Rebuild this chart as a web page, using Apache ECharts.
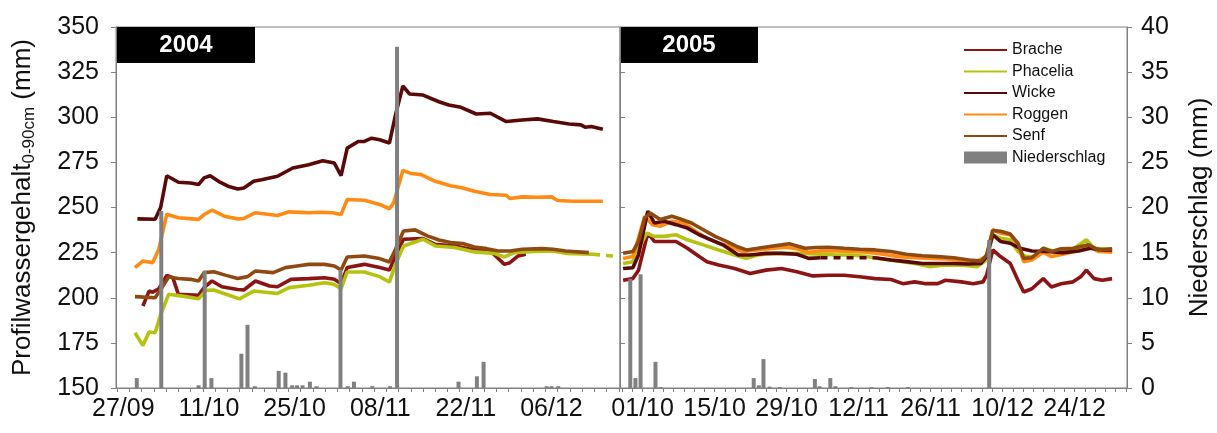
<!DOCTYPE html>
<html>
<head>
<meta charset="utf-8">
<script src="https://cdn.jsdelivr.net/npm/echarts@6/dist/echarts.min.js"></script>
<style>
  html, body { margin: 0; padding: 0; background: #fff; }
  #chart { width: 1217px; height: 433px; }
</style>
</head>
<body>
<div id="chart"></div>
<script>
// x values are day offsets: 2004 panel counts from 27/09/2004, 2005 panel from 01/10/2005.
const dateLabels2004 = ['27/09', '11/10', '25/10', '08/11', '22/11', '06/12'];
const dateLabelDays2004 = [0, 14, 28, 42, 56, 70];
const dateLabels2005 = ['01/10', '15/10', '29/10', '12/11', '26/11', '10/12', '24/12'];
const dateLabelDays2005 = [0, 14, 28, 42, 56, 70, 84];

// Profile water content 0-90 cm (mm), 2004
const brache2004 = [[3.2,195.4],[4.2,203.7],[4.8,203.1],[5.8,205],[7.1,212.4],[8.1,211.1],[9,201.9],[12.3,201.3],[13.2,205.6],[14.5,209.3],[16.1,206.1],[18.7,204.6],[19.7,204.3],[21.6,209.3],[23.9,206.5],[25.2,206.1],[27.4,210.2],[30.3,210.6],[32.9,211.1],[34.5,210.2],[35.6,207.8],[36.6,216.7],[39.4,218.5],[41.9,216.7],[43.5,215.4],[44.5,223.1],[45.8,232.4],[49,232.8],[51,229.6],[54.2,228.7],[57.4,226.5],[60,225.9],[62.3,218.5],[63.2,219.4],[64.5,223.1],[65.8,224.1]];
const phacelia2004 = [[1.9,180.6],[3.2,173.5],[4.2,181],[5.2,180.6],[6.1,190.7],[7.4,201.9],[9.7,200.9],[12.3,199.4],[13.5,204.1],[14.8,204.3],[16.8,201.9],[19,199.4],[21.3,203.7],[25.2,202.4],[27.1,205.6],[30.3,206.9],[32.9,208.3],[34.5,207.4],[35.6,205],[36.6,214.3],[39.4,214.3],[41.9,211.7],[43.5,208.7],[44.5,218.5],[45.8,228.7],[49,232.4],[51,228.7],[54.2,227.8],[57.4,225.4],[60.6,224.6],[62.3,222.6],[63.9,225],[67.1,225.6],[70.3,225.9],[72.3,224.6],[76.8,224.1]];
const phacelia2004Tail = [[76.8,224.1],[81,222.8]];
const wicke2004 = [[2.3,243.7],[5.2,243.5],[6.1,250],[7.1,267.6],[9,264],[11,263.6],[12.3,262.7],[13.2,266.4],[14.2,267.6],[15.8,264],[17.1,261.8],[18.7,260.3],[19.7,260.8],[21.3,264.5],[22.6,265.4],[25.2,267.3],[27.7,271.9],[30.3,273.7],[32.6,275.9],[34.5,274.6],[35.6,267.6],[36.6,282.9],[38.4,286.6],[39.4,286.6],[40.6,288.4],[41.9,287.5],[43.5,285.7],[44.5,301.3],[45.7,317.3],[46.8,312.9],[49,312.3],[51.6,308.6],[53.2,306.8],[55.2,305.5],[57.7,301.8],[60,302.2],[62.6,297.6],[65.2,298.5],[67.7,299.1],[70.3,297.6],[72.9,296.3],[74.8,295.8],[75.5,294.5],[76.5,294.9],[78.4,293.4]];
const roggen2004 = [[1.9,216.7],[3.2,220.4],[4.8,219.4],[5.8,226.9],[7.1,246.3],[9,244.3],[12.3,243.4],[13.2,246.1],[14.5,248.5],[16.5,245.2],[18.7,243.7],[19.7,243.9],[21.6,247.1],[25.2,245.6],[27.1,247.6],[30.3,247.1],[32.3,247.4],[34.2,247.1],[35.6,246.1],[36.6,254.4],[39.4,254],[41.9,251.7],[43.5,249.3],[44.2,252.6],[45.7,270.6],[47.1,268.8],[48.7,268.2],[51,264.5],[53.5,262.1],[55.5,260.8],[57.4,259],[60,257.2],[62.6,256.8],[63.2,255],[65.2,255.9],[67.7,255.7],[70,255.9],[71,253.9],[73.5,253.5],[78.4,253.5]];
const senf2004 = [[1.9,200.6],[5.2,200],[6.1,204.6],[7.4,211.5],[9,210.7],[11,210.2],[12.3,209.3],[13.2,213.9],[14.8,214.4],[16.8,212.4],[18.7,210.7],[20.3,211.7],[21.6,214.8],[24.5,213.9],[26.5,216.7],[28.4,217.6],[30.3,218.5],[32.9,218.5],[34.5,217.6],[35.6,215.4],[36.6,222.6],[39.4,223.1],[41.9,221.7],[43.5,219.8],[44.5,226.9],[45.8,237],[47.7,237.6],[49.7,234.3],[51.6,232],[53.5,230.6],[55.5,230],[57.4,228.1],[59.4,227.2],[61.3,225.9],[63.2,225.9],[65.2,226.9],[68.4,227.2],[70.3,226.9],[72.3,225.9],[76.1,225]];
// Daily precipitation (mm), 2004
const rain2004 = [[2.2,1.1],[6.2,19.6],[12.3,0.3],[13.3,13.0],[14.4,1.1],[19.3,3.8],[20.3,7.0],[21.5,0.2],[25.4,1.9],[26.5,1.7],[27.6,0.3],[28.4,0.3],[29.3,0.3],[30.5,0.7],[31.6,0.2],[35.5,13.1],[36.7,0.2],[37.7,0.7],[40.7,0.2],[43.6,0.2],[44.75,37.8],[54.8,0.7],[57.8,1.3],[58.9,2.9],[69.2,0.2],[70,0.2],[71.1,0.2]];

// Profile water content 0-90 cm (mm), 2005
const brache2005 = [[-3.8,209.7],[-1.9,210.6],[-0.8,215.3],[1.0,235.8],[2.3,231.2],[4.2,231.2],[6.5,231.2],[8.7,227.4],[11,222.8],[12.5,220],[14.8,218.1],[17.9,216.2],[20.9,213.4],[24,215.3],[27,216.2],[30,214.4],[33.1,212.1],[36.1,212.5],[39.2,212.5],[42.2,211.6],[45.2,210.6],[48.3,210.1],[50.6,207.8],[52.9,208.8],[55.1,207.8],[57.4,207.8],[58.9,209.7],[62,208.8],[64.3,207.8],[66.2,208.8],[66.9,212.5],[68.1,226.5],[69.6,222.8],[71.5,219],[73,209.7],[74.1,203.2],[75.7,205],[77.9,210.6],[79.5,206],[81.4,207.8],[83.7,208.8],[85.2,211.6],[86.3,215.3],[87.8,210.6],[89.4,209.7],[91.3,210.6]];
const phacelia2005 = [[-3.8,219],[-1.9,220],[-0.8,227.4],[0.8,235.8],[2.3,234],[4.2,234],[6.5,234.9],[8.7,232.1],[11.8,229.3],[14.8,226.5],[17.9,223.7],[20.2,221.8],[22.4,223.7],[25.5,224.6],[28.5,224.6],[31.6,224.6],[34.6,224.1],[37.6,223.7],[40.7,223.7],[43.7,222.8],[46.8,221.3],[49.8,220.3],[52.9,219],[55.9,217.2],[58.9,218.1],[62,218.1],[65,217.2],[66.9,220.9],[68.1,234.9],[69.6,233],[71.5,232.1],[73,225.6],[74.5,222.8],[76.4,222.8],[77.9,227.4],[80.2,225.6],[81.7,225.6],[84,227.4],[86.3,232.1],[87.8,227.4],[91.3,226.5]];
const wicke2005 = [[-3.8,216.2],[-1.9,216.6],[-0.8,223.7],[1.0,248],[2.3,241.4],[4.2,242.4],[6.5,240.5],[8.7,238.6],[11,234.9],[13.3,232.1],[15.6,229.3],[18.6,223.7],[20.9,223.7],[24,224.6],[27,224.6],[30,224.1],[32.3,221.8],[34.6,222.2],[37.6,222.2],[40.7,222.2],[45.2,222.2],[48.3,220.9],[51.3,220],[54.4,219],[57.4,219],[60.5,219],[63.5,218.7],[65.8,219],[66.9,222.8],[68.1,234.9],[69.6,231.2],[71.5,230.2],[73.4,227.4],[75.7,225.9],[78.7,225.6],[81.7,225],[84.8,225.9],[87.1,227.4],[89.4,226.5],[91.3,226.5]];
const wicke2005Gap = [34.6, 45.2];   // interpolated stretch, drawn dashed
const roggen2005 = [[-3.8,221.8],[-1.9,222.8],[-0.8,233],[0.4,245.1],[1.9,240.5],[3.4,239.6],[5.7,242.4],[8.0,241.4],[10.3,236.8],[12.5,233],[14.8,230.2],[17.1,228.4],[19.4,225.6],[22.4,226.5],[25.5,227.4],[27.8,228],[30,227.1],[32.3,225.2],[34.6,225.9],[37.6,225.9],[40.7,225.6],[43.7,225.2],[46.8,224.1],[49.8,222.8],[52.9,222.2],[55.9,221.8],[58.9,221.5],[62,220.7],[65,220.3],[66.9,222.8],[68.1,237.7],[69.6,235.8],[71.5,234.9],[73,229.3],[74.1,220],[75.7,220.9],[77.9,225.2],[79.5,222.8],[81.7,224.1],[84,225.6],[86.7,228.7],[88.6,225.6],[91.3,225.2]];
const senf2005 = [[-3.8,224.6],[-1.9,225.6],[-0.8,231.2],[0.4,244.2],[1.5,247],[3.4,243.3],[5.7,245.1],[7.2,243.8],[9.5,241.4],[11.8,237.7],[14.1,234],[16.3,231.2],[18.3,228.4],[20.2,226.5],[22.4,227.4],[24.7,228.4],[27,229.3],[28.5,229.9],[31.6,227.4],[33.8,227.8],[36.1,228],[39.2,227.4],[42.2,226.9],[45.2,226.5],[48.3,225.6],[51.3,224.1],[54.4,223.3],[57.4,222.8],[60.5,222.2],[63.5,220.9],[65.8,220.3],[66.9,223.7],[68.1,237.3],[69.6,236.8],[71.5,235.3],[73,230.2],[74.1,221.8],[75.7,222.2],[77.9,227.4],[79.5,225.6],[81.4,227.1],[83.7,227.4],[86.7,229.3],[88.6,226.5],[91.3,227.1]];
// Daily precipitation (mm), 2005
const rain2005 = [[-2.4,12.1],[-1.4,1.1],[-0.4,12.6],[2.5,2.9],[3.5,0.1],[21.6,1.1],[22.6,0.3],[23.5,3.2],[24.7,0.15],[26.7,0.1],[33.5,1.0],[34.4,0.2],[36.5,1.1],[37.5,0.2],[40.6,0.1],[44.5,0.1],[47.7,0.1],[51.6,0.1],[67.4,16.4]];

const COLORS = {
  Brache: '#8c1414',
  Phacelia: '#b4c310',
  Wicke: '#5a0909',
  Roggen: '#ff8a14',
  Senf: '#8f4a12',
  Niederschlag: '#808080'
};
const AXIS_COLOR = '#808080';
const TEXT_COLOR = '#111';
const FONT = '"Liberation Sans", Arial, sans-serif';

function labelFormatter(days, labels) {
  return v => {
    const i = days.indexOf(Math.round(v));
    return i >= 0 ? labels[i] : '';
  };
}
function range(a, b, step) {
  const out = [];
  for (let v = a; v <= b + 1e-9; v += step) out.push(v);
  return out;
}

function lineSeries(name, data, panel, dashed) {
  return {
    type: 'line', name, data,
    xAxisIndex: panel, yAxisIndex: panel === 0 ? 0 : 2,
    symbol: 'none', z: 2, animation: false,
    lineStyle: { width: 3.6, color: COLORS[name], type: dashed ? [7, 6] : 'solid' },
    itemStyle: { color: COLORS[name] }
  };
}
function barSeries(data, panel) {
  return {
    type: 'bar', name: 'Niederschlag', data,
    xAxisIndex: panel, yAxisIndex: panel === 0 ? 1 : 3,
    barWidth: 4, z: 3, animation: false,
    itemStyle: { color: COLORS.Niederschlag }
  };
}

const wickeA = wicke2005.filter(p => p[0] <= wicke2005Gap[0]);
const wickeGap = wicke2005.filter(p => p[0] >= wicke2005Gap[0] && p[0] <= wicke2005Gap[1]);
const wickeB = wicke2005.filter(p => p[0] >= wicke2005Gap[1]);

const tickLabelStyle = { fontSize: 25, color: TEXT_COLOR, fontFamily: FONT };
const lineLegend = name => ({ name, itemStyle: { opacity: 0 } });

const option = {
  animation: false,
  backgroundColor: '#fff',
  grid: [
    { left: 116, top: 27, width: 504, height: 361, show: true, borderColor: AXIS_COLOR, borderWidth: 1 },
    { left: 620, top: 27, width: 507, height: 361, show: true, borderColor: AXIS_COLOR, borderWidth: 1 }
  ],
  xAxis: [
    {
      type: 'value', gridIndex: 0, min: -1.2, max: 81.2,
      axisLine: { show: true, onZero: false, lineStyle: { color: AXIS_COLOR } },
      axisTick: { show: true, length: 4, customValues: range(-1, 81, 2), lineStyle: { color: AXIS_COLOR } },
      axisLabel: { customValues: dateLabelDays2004, formatter: labelFormatter(dateLabelDays2004, dateLabels2004), margin: 9, ...tickLabelStyle },
      splitLine: { show: false }
    },
    {
      type: 'value', gridIndex: 1, min: -4.4, max: 94.2,
      axisLine: { show: true, onZero: false, lineStyle: { color: AXIS_COLOR } },
      axisTick: { show: true, length: 4, customValues: range(-4, 94, 2), lineStyle: { color: AXIS_COLOR } },
      axisLabel: { customValues: dateLabelDays2005, formatter: labelFormatter(dateLabelDays2005, dateLabels2005), margin: 9, ...tickLabelStyle },
      splitLine: { show: false }
    }
  ],
  yAxis: [
    {
      type: 'value', gridIndex: 0, position: 'left', min: 150, max: 350, interval: 25,
      axisLine: { show: true, onZero: false, lineStyle: { color: AXIS_COLOR } },
      axisTick: { show: true, length: 5, lineStyle: { color: AXIS_COLOR } },
      axisLabel: { margin: 17, ...tickLabelStyle },
      splitLine: { show: false },
      name: '{m|Profilwassergehalt}{s|0-90cm}{m| (mm)}',
      nameLocation: 'middle', nameRotate: 90, nameGap: 78,
      nameTextStyle: {
        rich: {
          m: { fontSize: 26, color: TEXT_COLOR, fontFamily: FONT },
          s: { fontSize: 17, color: TEXT_COLOR, fontFamily: FONT, padding: [14, 0, 0, 0] }
        }
      }
    },
    { type: 'value', gridIndex: 0, position: 'right', min: 0, max: 40, show: false, axisLine: { onZero: false } },
    {
      type: 'value', gridIndex: 1, position: 'left', min: 150, max: 350, interval: 25,
      axisLine: { show: true, onZero: false, lineStyle: { color: AXIS_COLOR } },
      axisTick: { show: true, inside: true, length: 5, lineStyle: { color: AXIS_COLOR } },
      axisLabel: { show: false },
      splitLine: { show: false }
    },
    {
      type: 'value', gridIndex: 1, position: 'right', min: 0, max: 40, interval: 5,
      axisLine: { show: true, onZero: false, lineStyle: { color: AXIS_COLOR } },
      axisTick: { show: true, length: 5, lineStyle: { color: AXIS_COLOR } },
      axisLabel: { margin: 14, ...tickLabelStyle },
      splitLine: { show: false },
      name: 'Niederschlag (mm)',
      nameLocation: 'middle', nameRotate: 90, nameGap: 60,
      nameTextStyle: { fontSize: 26, color: TEXT_COLOR, fontFamily: FONT }
    }
  ],
  legend: {
    orient: 'vertical', left: 958, top: 37,
    itemWidth: 43, itemHeight: 12, itemGap: 5.5,
    textStyle: { fontSize: 16, color: TEXT_COLOR, fontFamily: FONT },
    data: ['Brache', 'Phacelia', 'Wicke', 'Roggen', 'Senf'].map(lineLegend)
      .concat([{ name: 'Niederschlag', icon: 'rect' }])
  },
  graphic: [
    { type: 'rect', shape: { x: 117, y: 27, width: 138, height: 36 }, style: { fill: '#000' }, z: 10 },
    { type: 'text', x: 186, y: 45, style: { text: '2004', fill: '#fff', fontSize: 24, fontWeight: 'bold', fontFamily: FONT, align: 'center', verticalAlign: 'middle' }, z: 11 },
    { type: 'rect', shape: { x: 621, y: 27, width: 137, height: 36 }, style: { fill: '#000' }, z: 10 },
    { type: 'text', x: 689, y: 45, style: { text: '2005', fill: '#fff', fontSize: 24, fontWeight: 'bold', fontFamily: FONT, align: 'center', verticalAlign: 'middle' }, z: 11 }
  ],
  series: [
    lineSeries('Brache', brache2004, 0),
    lineSeries('Phacelia', phacelia2004, 0),
    lineSeries('Phacelia', phacelia2004Tail, 0, true),
    lineSeries('Wicke', wicke2004, 0),
    lineSeries('Roggen', roggen2004, 0),
    lineSeries('Senf', senf2004, 0),
    barSeries(rain2004, 0),
    lineSeries('Brache', brache2005, 1),
    lineSeries('Phacelia', phacelia2005, 1),
    lineSeries('Roggen', roggen2005, 1),
    lineSeries('Wicke', wickeA, 1),
    lineSeries('Wicke', wickeGap, 1, true),
    lineSeries('Wicke', wickeB, 1),
    lineSeries('Senf', senf2005, 1),
    barSeries(rain2005, 1)
  ]
};

const chart = echarts.init(document.getElementById('chart'), null, { renderer: 'canvas' });
chart.setOption(option);
</script>
</body>
</html>
